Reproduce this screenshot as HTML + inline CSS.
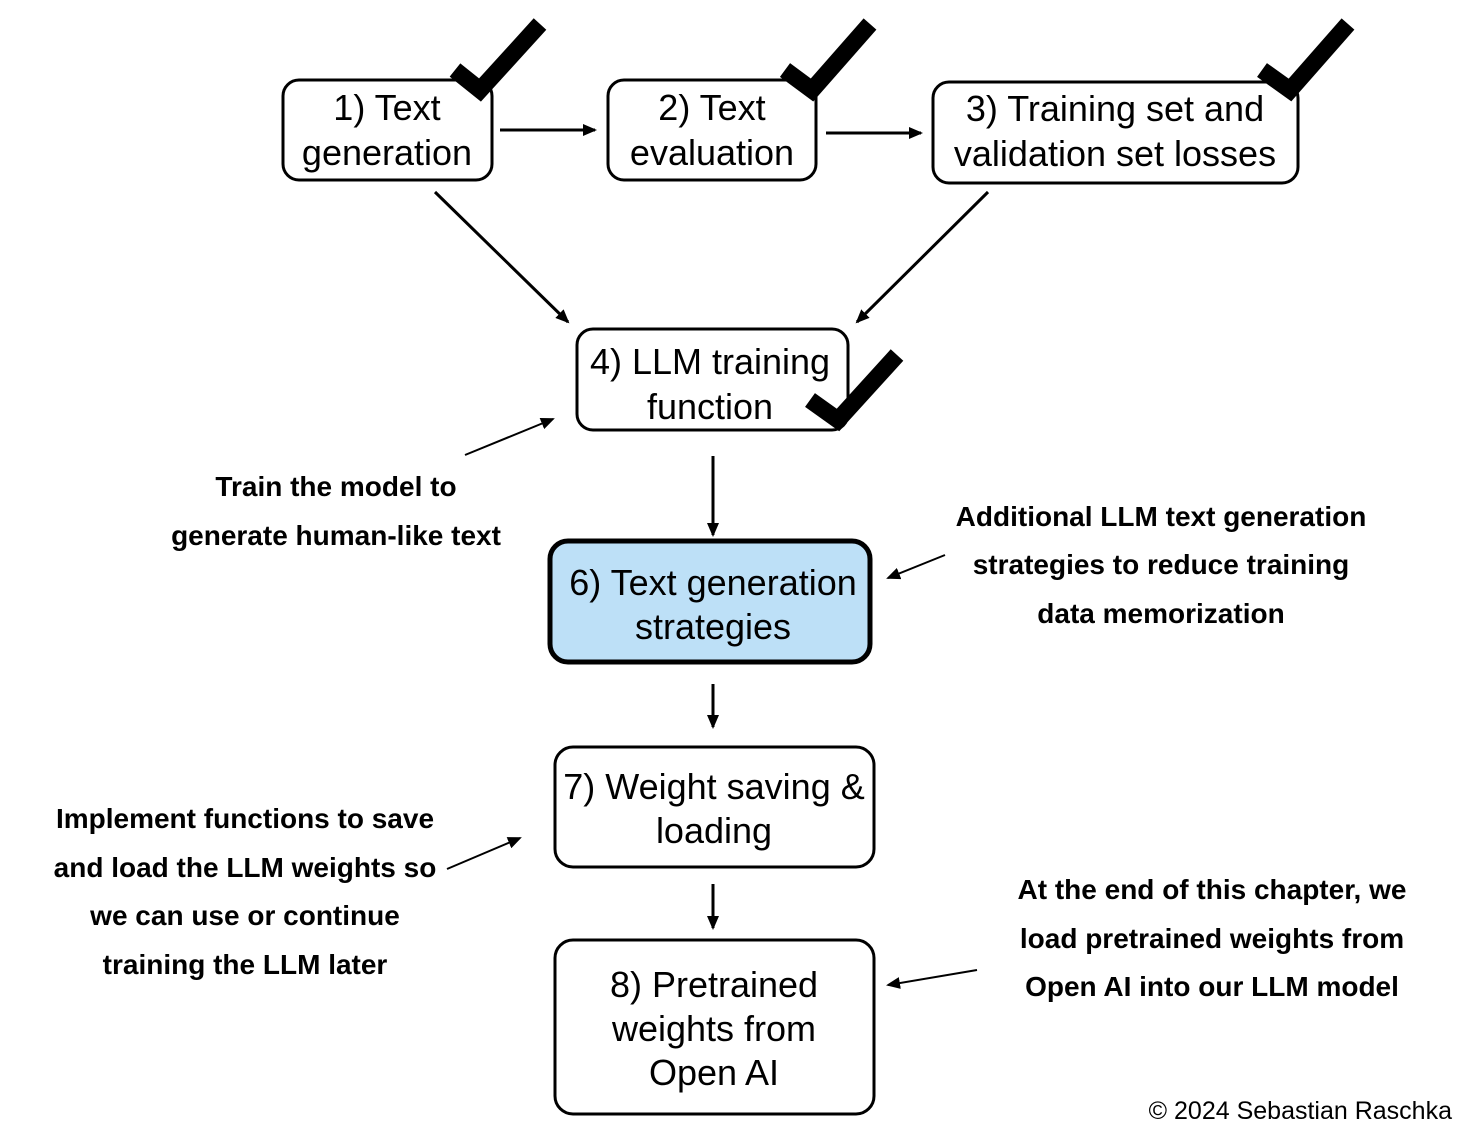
<!DOCTYPE html>
<html><head><style>
body{margin:0;background:#fff}
svg{display:block}
.b{font-family:"Liberation Sans",sans-serif;font-size:36px;fill:#000;text-anchor:middle}
.a{font-family:"Liberation Sans Narrow","Liberation Sans",sans-serif;font-weight:bold;font-size:28px;fill:#000;text-anchor:middle}
</style></head><body>
<svg width="1464" height="1136" viewBox="0 0 1464 1136" xmlns="http://www.w3.org/2000/svg">
<defs><marker id="m" markerWidth="14" markerHeight="12" refX="12" refY="6" orient="auto" markerUnits="userSpaceOnUse"><path d="M0,0 L14,6 L0,12 z" fill="#000"/></marker></defs>
<g fill="#fff" stroke="#000" stroke-width="3">
<rect x="283" y="80" width="209" height="100" rx="16"/>
<rect x="608" y="80" width="208" height="100" rx="16"/>
<rect x="933" y="82" width="365" height="101" rx="16"/>
<rect x="577" y="329" width="271" height="101" rx="16"/>
<rect x="550" y="541" width="320" height="121" rx="18" fill="#bde0f7" stroke-width="5"/>
<rect x="555" y="747" width="319" height="120" rx="18"/>
<rect x="555" y="940" width="319" height="174" rx="18"/>
</g>
<g fill="none" stroke="#000" stroke-width="17" stroke-linejoin="miter">
<polyline points="455,70 480,90 540,24"/>
<polyline points="785,70 812,90 870,24"/>
<polyline points="1262,70 1290,90 1348,24"/>
<polyline points="810,400 838,420 897,355"/>
</g>
<g stroke="#000" stroke-width="3" marker-end="url(#m)">
<line x1="500" y1="130" x2="595" y2="130"/>
<line x1="826" y1="133" x2="921" y2="133"/>
<line x1="435" y1="192" x2="568" y2="322"/>
<line x1="988" y1="192" x2="857" y2="322"/>
<line x1="713" y1="456" x2="713" y2="535"/>
<line x1="713" y1="684" x2="713" y2="727"/>
<line x1="713" y1="884" x2="713" y2="928"/>
</g>
<g stroke="#000" stroke-width="2" marker-end="url(#m)">
<line x1="465" y1="455" x2="553" y2="419"/>
<line x1="945" y1="555" x2="888" y2="578"/>
<line x1="447" y1="869" x2="520" y2="838"/>
<line x1="977" y1="970" x2="888" y2="985"/>
</g>
<text class="b" x="387" y="120">1) Text</text>
<text class="b" x="387" y="165">generation</text>
<text class="b" x="712" y="120">2) Text</text>
<text class="b" x="712" y="165">evaluation</text>
<text class="b" x="1115" y="121">3) Training set and</text>
<text class="b" x="1115" y="166">validation set losses</text>
<text class="b" x="710" y="374">4) LLM training</text>
<text class="b" x="710" y="419">function</text>
<text class="b" x="713" y="595">6) Text generation</text>
<text class="b" x="713" y="639">strategies</text>
<text class="b" x="714" y="799">7) Weight saving &amp;</text>
<text class="b" x="714" y="843">loading</text>
<text class="b" x="714" y="997">8) Pretrained</text>
<text class="b" x="714" y="1041">weights from</text>
<text class="b" x="714" y="1085">Open AI</text>
<text class="a" x="336" y="496">Train the model to</text>
<text class="a" x="336" y="545">generate human-like text</text>
<text class="a" x="1161" y="526">Additional LLM text generation</text>
<text class="a" x="1161" y="574">strategies to reduce training</text>
<text class="a" x="1161" y="623">data memorization</text>
<text class="a" x="245" y="828">Implement functions to save</text>
<text class="a" x="245" y="877">and load the LLM weights so</text>
<text class="a" x="245" y="925">we can use or continue</text>
<text class="a" x="245" y="974">training the LLM later</text>
<text class="a" x="1212" y="899">At the end of this chapter, we</text>
<text class="a" x="1212" y="948">load pretrained weights from</text>
<text class="a" x="1212" y="996">Open AI into our LLM model</text>
<text x="1452" y="1119" font-family="Liberation Sans,sans-serif" font-size="25" text-anchor="end">© 2024 Sebastian Raschka</text>
</svg>
</body></html>
